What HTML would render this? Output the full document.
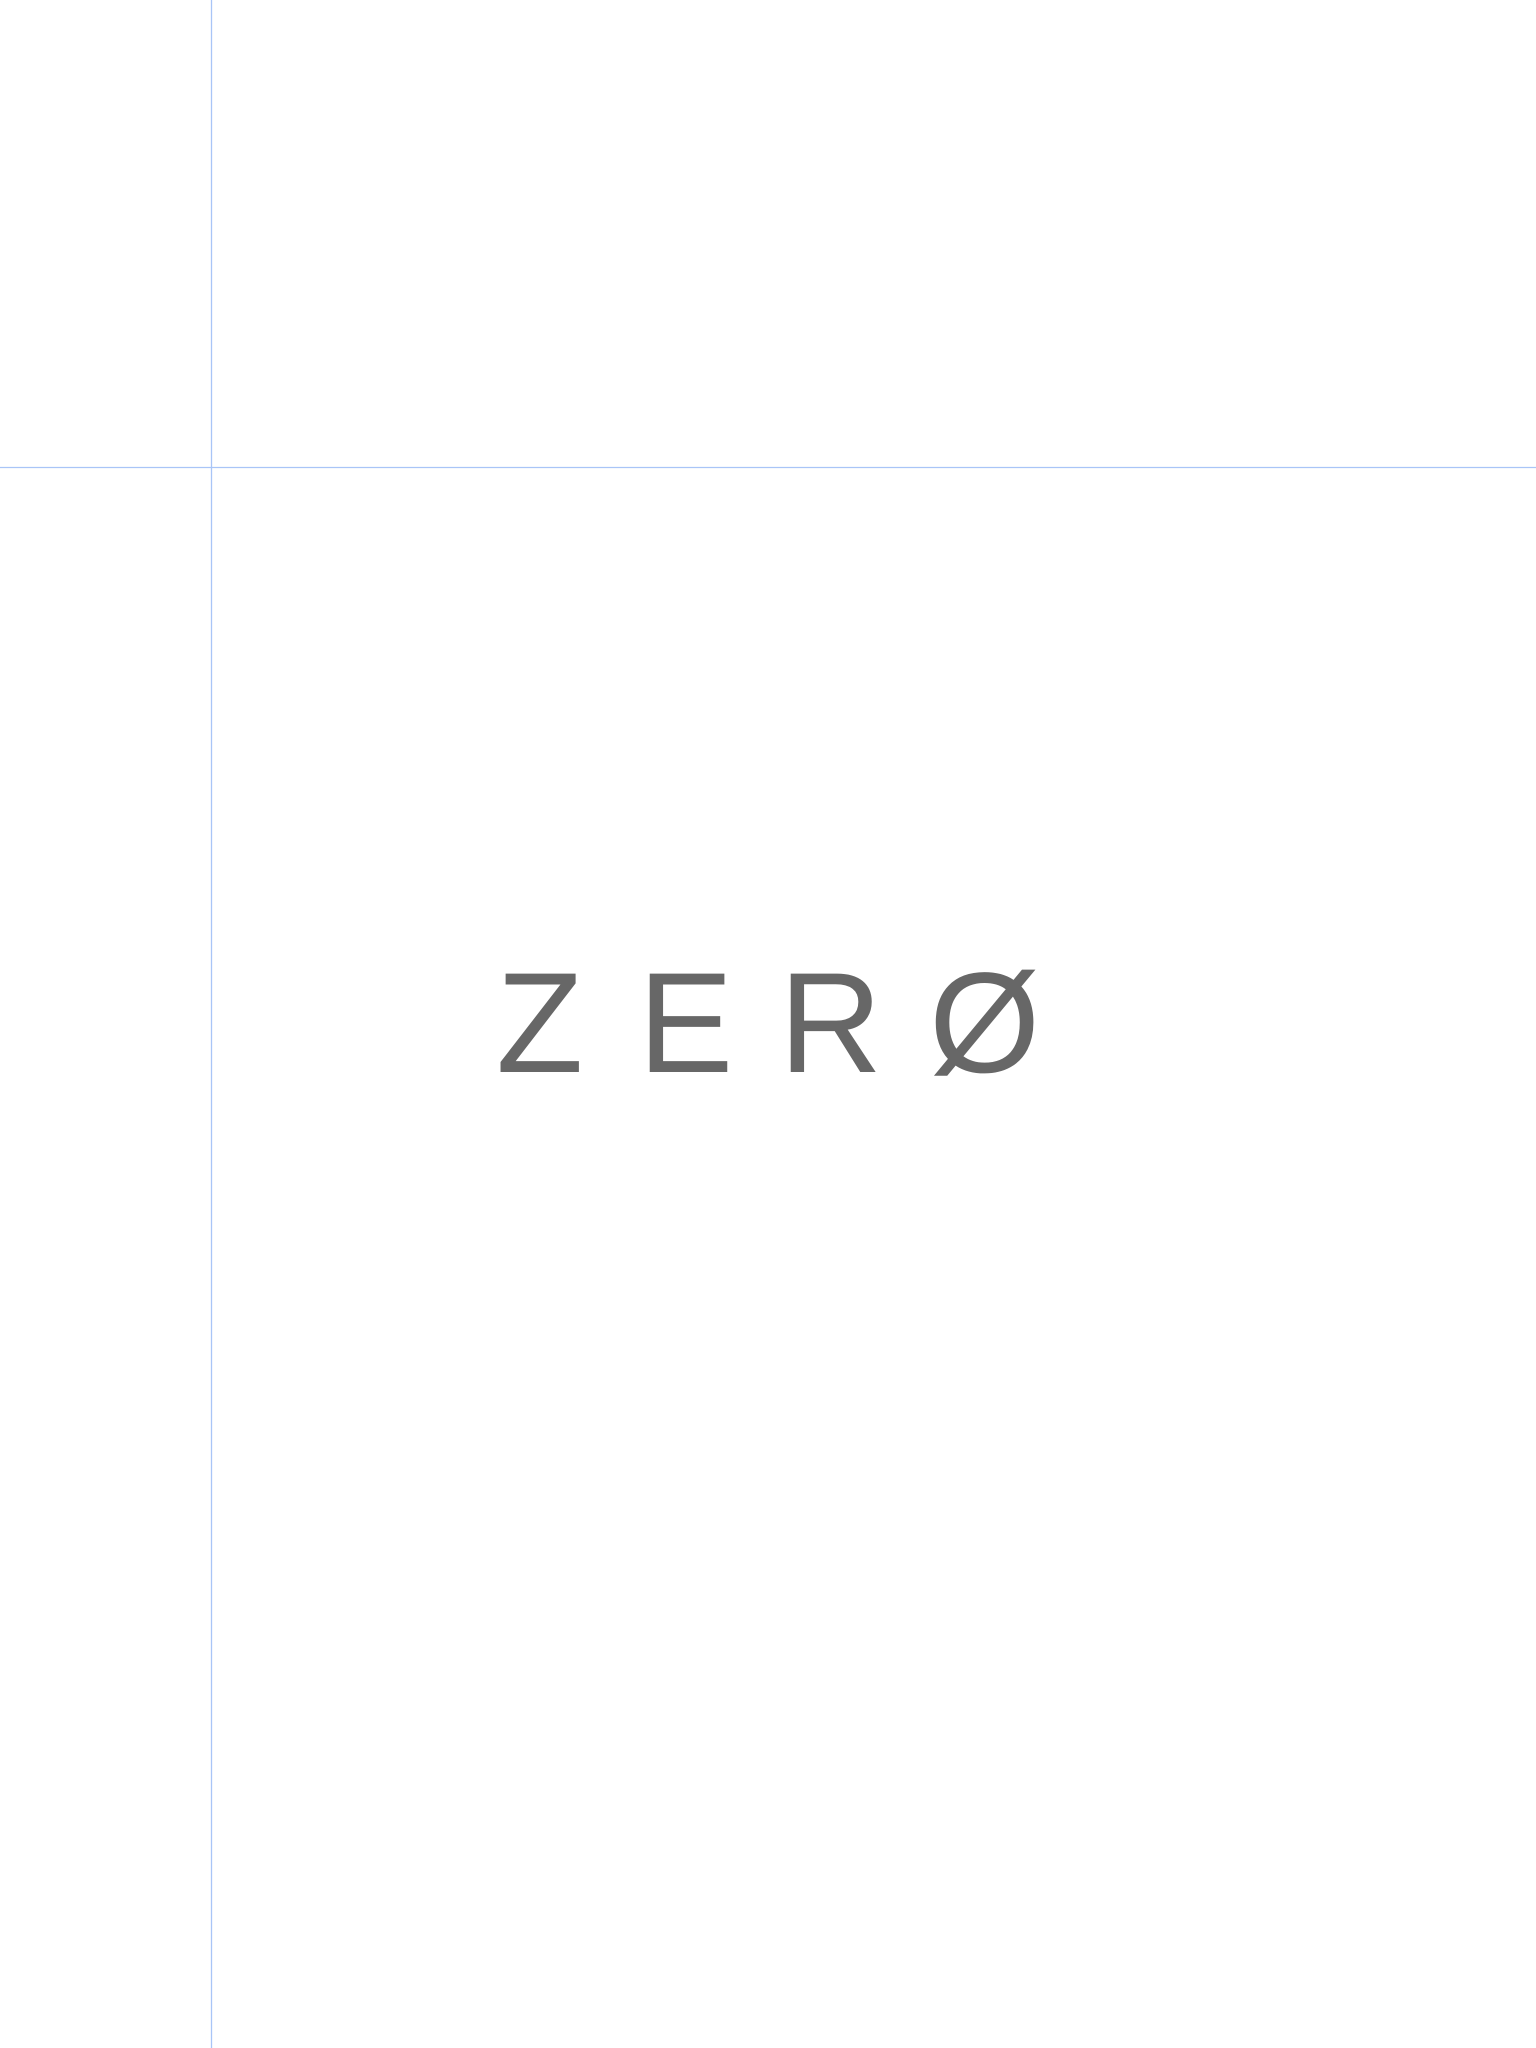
<!DOCTYPE html>
<html><head><meta charset="utf-8"><style>
html,body{margin:0;padding:0;background:#fff;}
svg{display:block;}
</style></head><body>
<svg width="1536" height="2048" viewBox="0 0 1536 2048">
<rect x="0" y="0" width="1536" height="2048" fill="#ffffff"/>
<line x1="211.5" y1="0" x2="211.5" y2="2048" stroke="#a9c5f7" stroke-width="1.3"/>
<line x1="0" y1="467.5" x2="1536" y2="467.5" stroke="#a9c5f7" stroke-width="1.3"/>
<g font-family="'Liberation Sans', Arial, sans-serif" font-size="143" fill="#676767">
<text x="496" y="1072">Z</text>
<text x="638" y="1072">E</text>
<text x="779" y="1072">R</text>
<text x="929" y="1072">Ø</text>
</g>
</svg>
</body></html>
